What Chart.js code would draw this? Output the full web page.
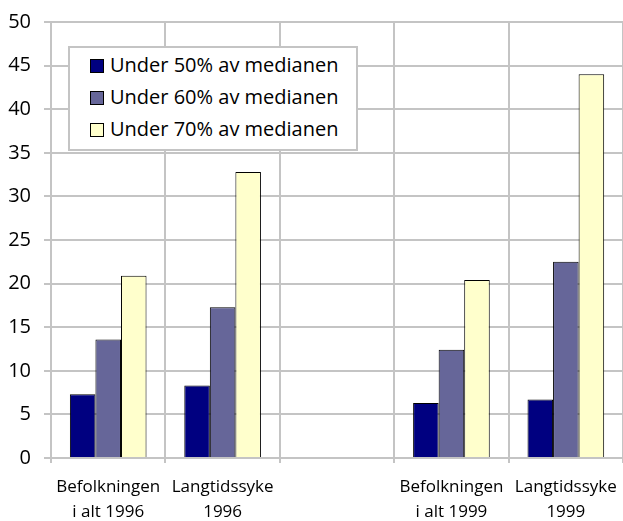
<!DOCTYPE html>
<html>
<head>
<meta charset="utf-8">
<script src="https://cdn.jsdelivr.net/npm/chart.js@4/dist/chart.umd.min.js"></script>
<style>
    html, body { margin: 0; padding: 0; background: #fff; overflow: hidden; }
    #wrap { position: relative; width: 628px; height: 521px; }
    #legend {
        position: absolute; left: 68px; top: 46px; width: 286px; height: 101px;
        background: #fff; border: 2px solid #c4c4c4;
        font-family: "Open Sans", sans-serif; font-size: 20px; color: #000;
        box-sizing: content-box;
    }
    #legend .item { position: absolute; left: 20px; height: 24px; line-height: 24px; white-space: nowrap; }
    #legend .box { display: inline-block; width: 12px; height: 12px; border: 1px solid #000; vertical-align: -1px; margin-right: 6px; }
</style>
</head>
<body>
<div id="wrap">
    <canvas id="chart" width="628" height="521"></canvas>
    <div id="legend"></div>
</div>
<script>
const categories = [
    ['Befolkningen', 'i alt 1996'],
    ['Langtidssyke', '1996'],
    '',
    ['Befolkningen', 'i alt 1999'],
    ['Langtidssyke', '1999']
];
const seriesNames = ['Under 50% av medianen', 'Under 60% av medianen', 'Under 70% av medianen'];
const under50 = [7.3, 8.3, null, 6.3, 6.7];
const under60 = [13.6, 17.3, null, 12.4, 22.5];
const under70 = [20.9, 32.8, null, 20.4, 44.0];
const colors = ['#000080', '#666699', '#FFFFCC'];

const gridColor = '#c4c4c4';
const font = "'Open Sans', sans-serif";

const ctx = document.getElementById('chart').getContext('2d');
const chart = new Chart(ctx, {
    type: 'bar',
    data: {
        labels: categories,
        datasets: [under50, under60, under70].map((values, i) => ({
            label: seriesNames[i],
            data: values,
            backgroundColor: colors[i],
            borderColor: '#000',
            borderWidth: 1,
            borderSkipped: 'bottom',
            categoryPercentage: 0.67,
            barPercentage: 1
        }))
    },
    options: {
        responsive: false,
        animation: false,
        layout: { padding: { top: 22, right: 2, left: 0, bottom: 0 } },
        plugins: {
            legend: { display: false },
            tooltip: { enabled: false }
        },
        scales: {
            x: {
                grid: { color: gridColor, lineWidth: 2, offset: true, tickLength: 5 },
                border: { color: gridColor, width: 2 },
                ticks: {
                    color: '#000',
                    font: { family: font, size: 17, lineHeight: 1.5 },
                    padding: 11,
                    maxRotation: 0,
                    autoSkip: false
                },
                afterFit: (s) => { s.height = 63; }
            },
            y: {
                min: 0,
                max: 50,
                ticks: { stepSize: 5, color: '#000', font: { family: font, size: 20 }, padding: 13 },
                grid: { color: gridColor, lineWidth: 2, tickLength: 7 },
                border: { color: gridColor, width: 2 },
                afterFit: (s) => {
                    s.width = 51;
                    // keep the tick padding from pushing the plot top down
                    s.paddingTop = 12;
                    s.paddingBottom = 12;
                }
            }
        }
    }
});

// legend built from the datasets
const legend = document.getElementById('legend');
chart.data.datasets.forEach((ds, i) => {
    const item = document.createElement('div');
    item.className = 'item';
    item.style.top = (4.5 + i * 32.3) + 'px';
    const box = document.createElement('span');
    box.className = 'box';
    box.style.background = ds.backgroundColor;
    item.appendChild(box);
    item.appendChild(document.createTextNode(ds.label));
    legend.appendChild(item);
});
</script>
</body>
</html>
